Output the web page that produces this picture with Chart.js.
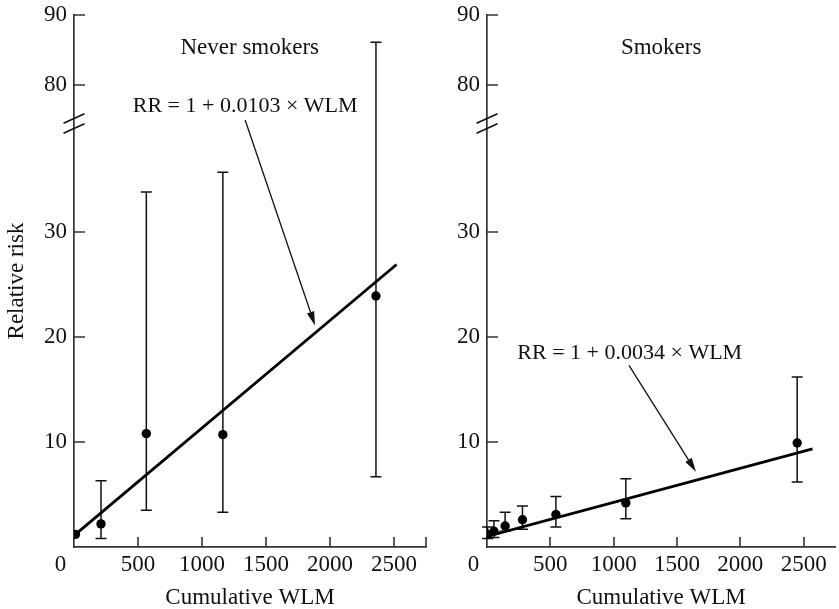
<!DOCTYPE html>
<html>
<head>
<meta charset="utf-8">
<script src="https://cdn.jsdelivr.net/npm/chart.js@4.4.1/dist/chart.umd.min.js"></script>
<style>
  html, body { margin: 0; padding: 0; background: #fff; overflow: hidden; }
  #wrap { position: relative; width: 839px; height: 609px; }
  canvas { position: absolute; top: 0; }
  #neverChart { left: 0; }
  #smokerChart { left: 440px; }
</style>
</head>
<body>
<div id="wrap">
  <canvas id="neverChart" width="440" height="609"></canvas>
  <canvas id="smokerChart" width="400" height="609"></canvas>
</div>
<script>
// ---- data ----
const xTicks = [500, 1000, 1500, 2000, 2500];
const yTicks = [10, 20, 30, 80, 90];
const yBreak = [40, 75];   // axis is cut between these values

// never smokers
const neverWLM  = [11, 211, 565, 1163, 2359];
const neverRR   = [1.2, 2.2, 10.8, 10.7, 23.9];
const neverLow  = [null, 0.8, 3.5, 3.3, 6.7];
const neverHigh = [null, 6.3, 33.8, 35.7, 86.1];
const neverFitWLM = [11, 2520];
const neverFitRR  = [1.2, 26.9];

// smokers
const smokerWLM  = [5, 55, 143, 280, 544, 1096, 2449];
const smokerRR   = [1.2, 1.5, 2.0, 2.6, 3.1, 4.2, 9.9];
const smokerLow  = [0.8, 0.9, 1.5, 1.7, 1.9, 2.7, 6.2];
const smokerHigh = [1.9, 2.5, 3.3, 3.9, 4.8, 6.5, 16.2];
const smokerFitWLM = [0, 2570];
const smokerFitRR  = [1.0, 9.35];

const INK = '#111';
const AXIS = '#333';
const FONT = 'Liberation Serif';
Chart.defaults.font.family = FONT;
Chart.defaults.color = INK;

// lower part of the y axis is drawn 1.5x taller per unit than the upper part
const LOWER_STRETCH = 1.5;
const Y_MAX = 90;

function brokenWeight(v) {
  const [lo, hi] = yBreak;
  if (v <= lo) return v * LOWER_STRETCH;
  if (v >= hi) return lo * LOWER_STRETCH + 1 + (v - hi);
  return lo * LOWER_STRETCH + (v - lo) / (hi - lo);
}
const totalWeight = brokenWeight(Y_MAX);

class BrokenScale extends Chart.LinearScale {
  getPixelForValue(value) {
    if (value === null || value === undefined || isNaN(value)) return NaN;
    return this.getPixelForDecimal(brokenWeight(value) / totalWeight);
  }
  getValueForPixel(pixel) {
    const [lo, hi] = yBreak;
    const w = this.getDecimalForPixel(pixel) * totalWeight;
    if (w <= lo * LOWER_STRETCH) return w / LOWER_STRETCH;
    if (w >= lo * LOWER_STRETCH + 1) return hi + (w - lo * LOWER_STRETCH - 1);
    return lo + (w - lo * LOWER_STRETCH) * (hi - lo);
  }
}
BrokenScale.id = 'broken';
BrokenScale.defaults = {};
Chart.register(BrokenScale);

function toPoints(xs, ys) {
  return xs.map((x, i) => ({ x: x, y: ys[i] }));
}

function arrow(ctx, x1, y1, x2, y2) {
  const ang = Math.atan2(y2 - y1, x2 - x1);
  const len = 14, half = 3.8;
  const bx = x2 - len * Math.cos(ang), by = y2 - len * Math.sin(ang);
  ctx.beginPath();
  ctx.moveTo(x1, y1);
  ctx.lineTo(bx, by);
  ctx.lineWidth = 1.3;
  ctx.stroke();
  ctx.beginPath();
  ctx.moveTo(x2, y2);
  ctx.lineTo(bx + half * Math.sin(ang), by - half * Math.cos(ang));
  ctx.lineTo(bx - half * Math.sin(ang), by + half * Math.cos(ang));
  ctx.closePath();
  ctx.fill();
}

// error bars, inward tick marks, axis break, zero label and annotations
const decorPlugin = {
  id: 'decor',
  beforeDatasetsDraw(chart, args, o) {
    const ctx = chart.ctx, xs = chart.scales.x, ys = chart.scales.y;
    ctx.save();
    ctx.strokeStyle = INK;
    ctx.lineWidth = 1.5;
    o.wlm.forEach((w, i) => {
      if (o.low[i] === null) return;
      const px = xs.getPixelForValue(w);
      const pt = ys.getPixelForValue(o.high[i]);
      const pb = ys.getPixelForValue(o.low[i]);
      ctx.beginPath();
      ctx.moveTo(px, pt); ctx.lineTo(px, pb);
      ctx.moveTo(px - 5.5, pt); ctx.lineTo(px + 5.5, pt);
      ctx.moveTo(px - 5.5, pb); ctx.lineTo(px + 5.5, pb);
      ctx.stroke();
    });
    ctx.restore();
  },
  afterDraw(chart, args, o) {
    const ctx = chart.ctx, xs = chart.scales.x, ys = chart.scales.y;
    const ax = ys.right, ay = xs.top;
    ctx.save();
    ctx.strokeStyle = AXIS;
    ctx.fillStyle = INK;
    ctx.lineWidth = 1.6;
    ctx.beginPath();
    yTicks.forEach(v => {
      const py = Math.round(ys.getPixelForValue(v));
      ctx.moveTo(ax, py); ctx.lineTo(ax + 11, py);
    });
    o.xTickValues.forEach(v => {
      const px = Math.round(xs.getPixelForValue(v));
      ctx.moveTo(px, ay); ctx.lineTo(px, ay - 10);
    });
    ctx.stroke();

    // break marks on the y axis
    const mid = ys.getPixelForValue((yBreak[0] + yBreak[1]) / 2);
    ctx.strokeStyle = INK;
    ctx.lineWidth = 1.6;
    ctx.beginPath();
    [-5, 5].forEach(d => {
      ctx.moveTo(ax - 10.5, mid + d + 4.7);
      ctx.lineTo(ax + 10.5, mid + d - 4.7);
    });
    ctx.stroke();

    // "0" sits left of the y axis
    ctx.font = '23px "' + FONT + '"';
    ctx.textAlign = 'center';
    ctx.textBaseline = 'middle';
    ctx.fillText('0', xs.getPixelForValue(0) - 13.5, ay + 4 + 13.8);

    ctx.fillText(o.title[0], xs.getPixelForValue(o.title[1]), ys.getPixelForValue(o.title[2]));
    ctx.font = '22px "' + FONT + '"';
    ctx.fillText(o.eqn[0], xs.getPixelForValue(o.eqn[1]), ys.getPixelForValue(o.eqn[2]));
    ctx.strokeStyle = INK;
    arrow(ctx,
      xs.getPixelForValue(o.arrowFrom[0]), ys.getPixelForValue(o.arrowFrom[1]),
      xs.getPixelForValue(o.arrowTo[0]), ys.getPixelForValue(o.arrowTo[1]));
    ctx.restore();
  }
};

function makeChart(id, cfg) {
  return new Chart(document.getElementById(id), {
    type: 'scatter',
    data: {
      datasets: [
        {
          data: toPoints(cfg.wlm, cfg.rr),
          backgroundColor: '#000',
          borderWidth: 0,
          pointRadius: 4.7,
          pointHoverRadius: 4.7
        },
        {
          type: 'line',
          data: toPoints(cfg.fitWLM, cfg.fitRR),
          borderColor: '#000',
          borderWidth: 2.8,
          pointRadius: 0,
          fill: false
        }
      ]
    },
    options: {
      responsive: false,
      animation: false,
      layout: { padding: { top: 15, right: cfg.padRight, left: 0, bottom: 0 } },
      plugins: {
        legend: { display: false },
        tooltip: { enabled: false },
        decor: {
          wlm: cfg.wlm, low: cfg.low, high: cfg.high,
          xTickValues: cfg.xTickValues,
          title: cfg.title, eqn: cfg.eqn,
          arrowFrom: cfg.arrowFrom, arrowTo: cfg.arrowTo
        }
      },
      scales: {
        x: {
          type: 'linear',
          min: 0,
          max: 2750,
          afterBuildTicks: s => { s.ticks = cfg.xTickValues.map(v => ({ value: v })); },
          afterFit: s => { s.height = 62; s.paddingLeft = 0; s.paddingRight = 0; },
          grid: { display: false, drawTicks: false },
          border: { display: true, color: AXIS, width: 1.7 },
          ticks: {
            padding: 4,
            maxRotation: 0,
            autoSkip: false,
            color: INK,
            font: { size: 23, lineHeight: 1.2 },
            callback: v => xTicks.includes(v) ? String(v) : ''
          },
          title: {
            display: true,
            text: 'Cumulative WLM',
            color: INK,
            font: { size: 23, lineHeight: 1 },
            padding: 0
          }
        },
        y: {
          type: 'broken',
          min: 0,
          max: Y_MAX,
          afterBuildTicks: s => { s.ticks = yTicks.map(v => ({ value: v })); },
          afterFit: s => { s.width = cfg.yWidth; s.paddingTop = 0; s.paddingBottom = 0; },
          grid: { display: false, drawTicks: false },
          border: { display: true, color: AXIS, width: 1.7 },
          ticks: {
            padding: 7,
            color: INK,
            font: { size: 23 },
            callback: v => String(v)
          },
          title: {
            display: cfg.yTitle,
            text: 'Relative risk',
            color: INK,
            font: { size: 23, lineHeight: 1 },
            padding: { top: 5, bottom: 0 }
          }
        }
      }
    },
    plugins: [decorPlugin]
  });
}

makeChart('neverChart', {
  wlm: neverWLM, rr: neverRR, low: neverLow, high: neverHigh,
  fitWLM: neverFitWLM, fitRR: neverFitRR,
  xTickValues: xTicks.concat([2750]),
  yWidth: 74, padRight: 14, yTitle: true,
  title: ['Never smokers', 1373, 85.3],
  eqn: ['RR = 1 + 0.0103 \u00d7 WLM', 1337, 76.9],
  arrowFrom: [1337, 75], arrowTo: [1883, 21.1]
});

makeChart('smokerChart', {
  wlm: smokerWLM, rr: smokerRR, low: smokerLow, high: smokerHigh,
  fitWLM: smokerFitWLM, fitRR: smokerFitRR,
  xTickValues: xTicks,
  yWidth: 47, padRight: 0, yTitle: false,
  title: ['Smokers', 1375, 85.3],
  eqn: ['RR = 1 + 0.0034 \u00d7 WLM', 1127, 18.5],
  arrowFrom: [1121, 17.3], arrowTo: [1650, 7.17]
});
</script>
</body>
</html>
